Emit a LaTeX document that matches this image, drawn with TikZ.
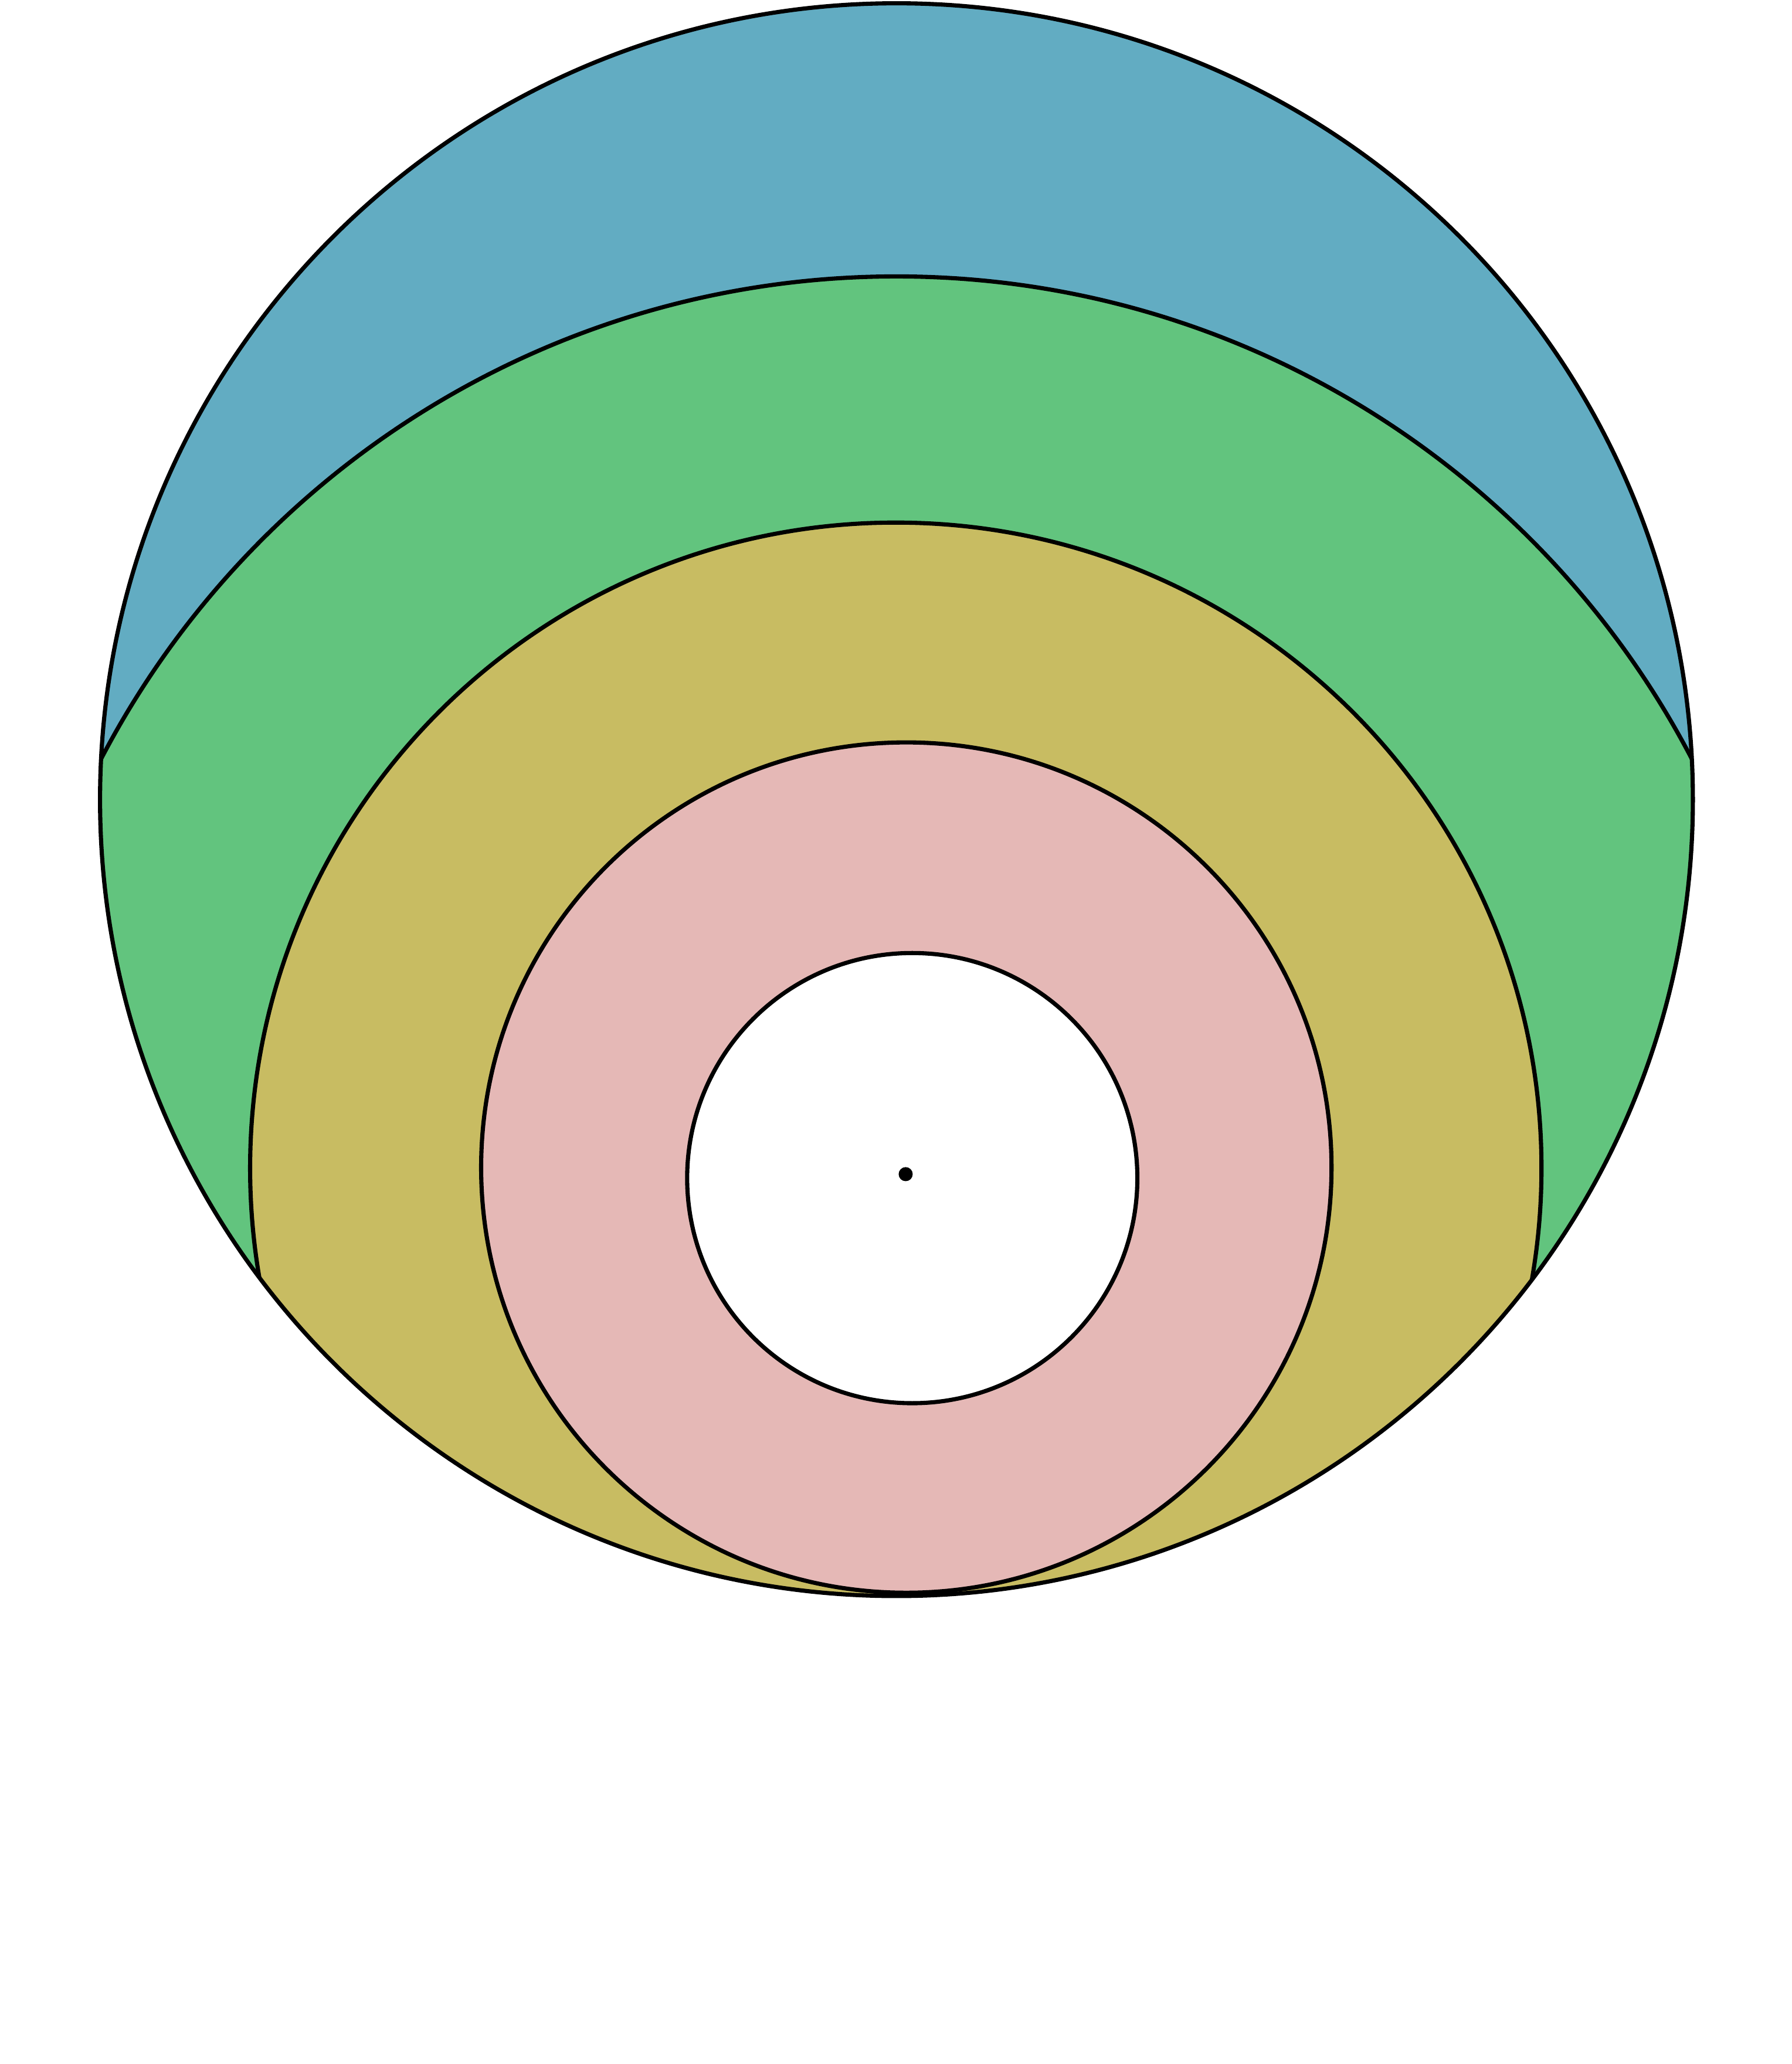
\documentclass[tikz,border=0pt]{standalone}
\usepackage{tikz}
\definecolor{bandBlue}{HTML}{62ACC2}
\definecolor{bandGreen}{HTML}{62C47E}
\definecolor{bandYellow}{HTML}{C8BC62}
\definecolor{bandPink}{HTML}{E5B8B6}
\tikzset{
  rim/.style={draw=black, line width=0.9pt},
  centredot/.style={circle, fill=black, inner sep=0pt, minimum size=1.07mm}
}
\begin{document}
\begin{tikzpicture}[x=0.1mm,y=0.1mm]
        \useasboundingbox (0,0) rectangle (1361,1568);
        \coordinate (outerc) at (681,960.5);
        \coordinate (greenc) at (681,677);
        \coordinate (yellowc) at (680.5,680.5);
        \coordinate (pinkc) at (688.5,681);
        \coordinate (holec) at (693,673);
        \fill[bandBlue] (outerc) circle (605);
        \begin{scope}
          \clip (outerc) circle (605);
          \fill[bandGreen] (greenc) circle (681);
          \fill[bandYellow] (yellowc) circle (490.5);
          \draw[rim] (greenc) circle (681);
          \draw[rim] (yellowc) circle (490.5);
        \end{scope}
        \filldraw[rim, fill=bandPink] (pinkc) circle (323);
        \filldraw[rim, fill=white] (holec) circle (171);
        \draw[rim] (outerc) circle (605);
        \node[centredot] (centre) at (688,676) {};
      \end{tikzpicture}
\end{document}
